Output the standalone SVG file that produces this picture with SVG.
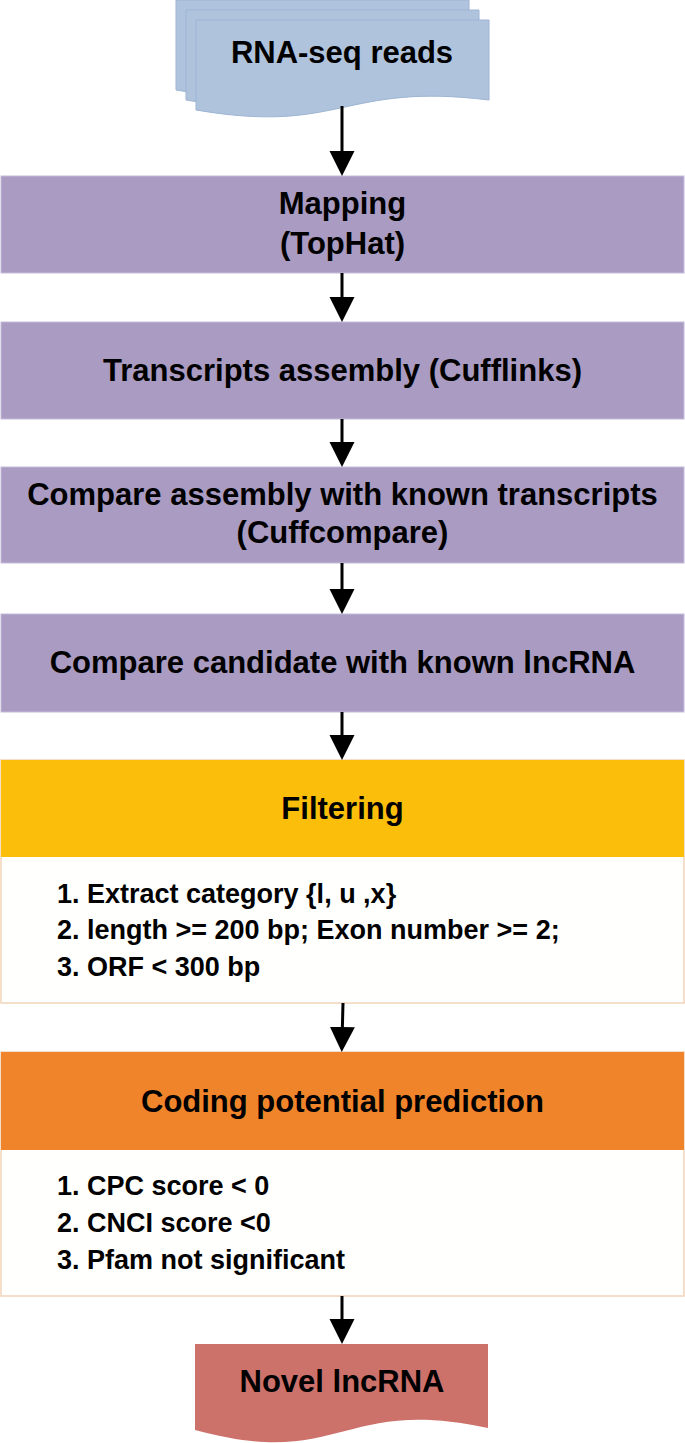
<svg xmlns="http://www.w3.org/2000/svg" width="685" height="1443" viewBox="0 0 685 1443">
<style>
  .t { font-family: "Liberation Sans", Arial, sans-serif; font-weight: bold; fill: #000; }
  .h { font-size: 31px; text-anchor: middle; }
  .l { font-size: 27px; }
  .doc { fill: #AFC3DD; stroke: #9DB5D3; stroke-width: 1; }
  .purple { fill: #A99BC1; stroke: #C6BCDA; stroke-width: 1; }
  .panel { fill: #FFFFFD; stroke: #F2D5BB; stroke-width: 1.5; }
  .conn { stroke: #000; stroke-width: 3; fill: none; marker-end: url(#arrow); }
</style>
<defs>
  <marker id="arrow" markerUnits="userSpaceOnUse" markerWidth="26" markerHeight="26" refX="15" refY="12.5" orient="auto" viewBox="0 0 26 26">
    <path d="M0,0 L25,12.5 L0,25 Z" fill="#000"/>
  </marker>
</defs>
<rect width="685" height="1443" fill="#FFFFFF"/>

<g id="node-rnaseq">
  <path class="doc" d="M176,0 H469 V80 C322,62 322,115 176,90 Z"/>
  <path class="doc" d="M186,10 H479 V90 C332,72 332,125 186,100 Z"/>
  <path class="doc" d="M196,20 H489 V100 C342,82 342,135 196,110 Z"/>
  <text class="t h" x="342" y="63">RNA-seq reads</text>
</g>

<g id="node-mapping">
  <rect class="purple" x="1" y="176" width="683" height="97"/>
  <text class="t h" x="342.5" y="214">Mapping</text>
  <text class="t h" x="342.5" y="254">(TopHat)</text>
</g>

<g id="node-assembly">
  <rect class="purple" x="1" y="322" width="683" height="97"/>
  <text class="t h" x="342.5" y="381">Transcripts assembly (Cufflinks)</text>
</g>

<g id="node-compare1">
  <rect class="purple" x="1" y="467" width="683" height="96"/>
  <text class="t h" x="342.5" y="505">Compare assembly with known transcripts</text>
  <text class="t h" x="342.5" y="543">(Cuffcompare)</text>
</g>

<g id="node-compare2">
  <rect class="purple" x="1" y="614" width="683" height="98"/>
  <text class="t h" x="342.5" y="673">Compare candidate with known lncRNA</text>
</g>

<g id="node-filtering">
  <rect class="panel" x="1" y="760" width="683" height="243"/>
  <rect x="1" y="760" width="683" height="97" fill="#FBBF0B"/>
  <text class="t h" x="342.5" y="819">Filtering</text>
  <text class="t l" x="57" y="903">1. Extract category {l, u ,x}</text>
  <text class="t l" x="57" y="939">2. length &gt;= 200 bp; Exon number &gt;= 2;</text>
  <text class="t l" x="57" y="976">3. ORF &lt; 300 bp</text>
</g>

<g id="node-coding">
  <rect class="panel" x="1" y="1052" width="683" height="244"/>
  <rect x="1" y="1052" width="683" height="98" fill="#F0842A"/>
  <text class="t h" x="342.5" y="1112">Coding potential prediction</text>
  <text class="t l" x="57" y="1195">1. CPC score &lt; 0</text>
  <text class="t l" x="57" y="1232">2. CNCI score &lt;0</text>
  <text class="t l" x="57" y="1269">3. Pfam not significant</text>
</g>

<g id="node-novel">
  <path d="M195,1344 H488 V1428 C341,1396 341,1470 195,1430 Z" fill="#CD716B"/>
  <text class="t h" x="342" y="1392">Novel lncRNA</text>
</g>

<g id="connectors">
  <line class="conn" x1="342" y1="106" x2="342" y2="166"/>
  <line class="conn" x1="342" y1="273" x2="342" y2="312"/>
  <line class="conn" x1="342" y1="419" x2="342" y2="457"/>
  <line class="conn" x1="342" y1="563" x2="342" y2="604"/>
  <line class="conn" x1="342" y1="712" x2="342" y2="750"/>
  <line class="conn" x1="343" y1="1003" x2="342" y2="1042"/>
  <line class="conn" x1="342" y1="1296" x2="342" y2="1334"/>
</g>
</svg>
